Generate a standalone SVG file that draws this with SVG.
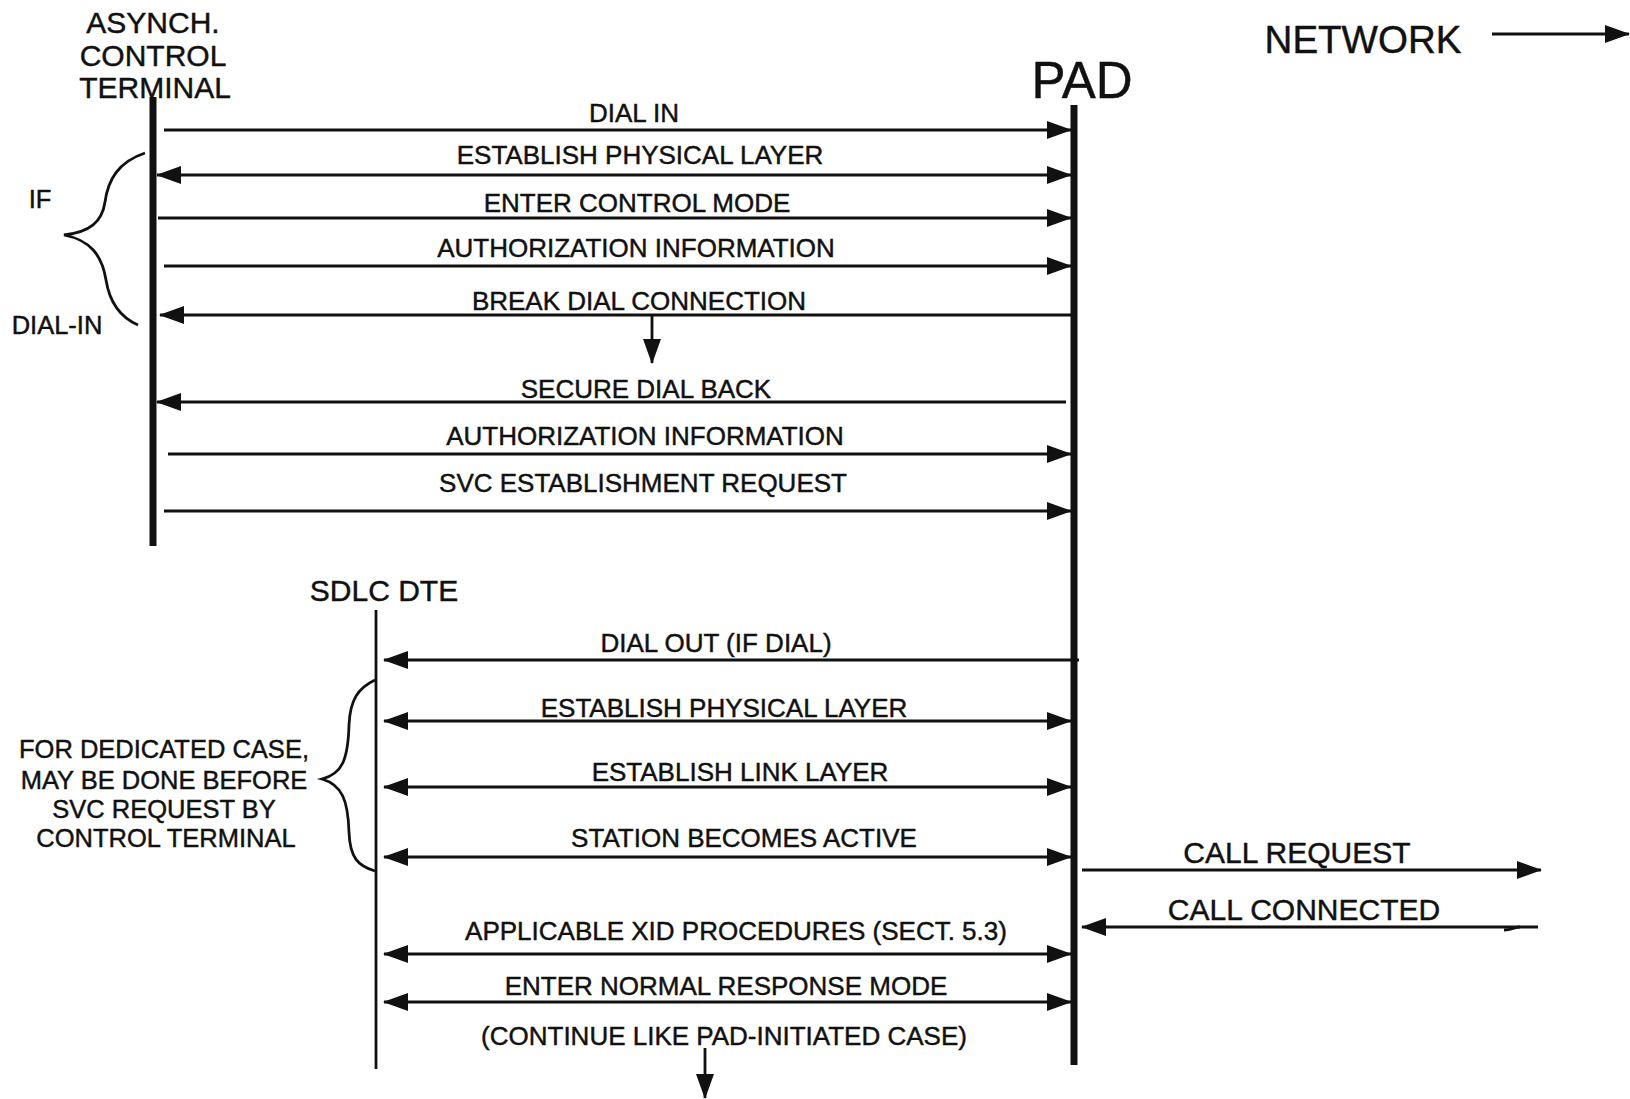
<svg xmlns="http://www.w3.org/2000/svg" width="1630" height="1099" viewBox="0 0 1630 1099">
<style>
text{font-family:"Liberation Sans",Arial,Helvetica,sans-serif;fill:#111;stroke:#111;stroke-width:0.45;}
.hdr{font-size:30px;text-anchor:middle;}
.lbl{font-size:26px;text-anchor:middle;}
.note{font-size:25.5px;text-anchor:middle;}
.big{font-size:30px;text-anchor:middle;}
.msg{stroke:#111;stroke-width:2.8;fill:none;}
.life{stroke:#111;fill:none;}
.brace{stroke:#111;stroke-width:2.8;fill:none;}
</style>
<defs>
<marker id="ah" markerUnits="userSpaceOnUse" viewBox="0 0 25 18" markerWidth="25" markerHeight="18" refX="24" refY="9" orient="auto-start-reverse">
<path d="M0,0 L25,9 L0,18 z" fill="#111"/>
</marker>
</defs>
<rect width="1630" height="1099" fill="#fff"/>

<g id="terminal">
<text class="hdr" x="153" y="33">ASYNCH.</text>
<text class="hdr" x="153" y="66">CONTROL</text>
<text class="hdr" x="155" y="98">TERMINAL</text>
<line class="life" x1="153" y1="97" x2="153" y2="546" stroke-width="7"/>
</g>

<g id="pad">
<text x="1082" y="98" font-size="51" text-anchor="middle">PAD</text>
<line class="life" x1="1074" y1="105" x2="1074" y2="1065" stroke-width="7"/>
</g>

<g id="network">
<text x="1363" y="53" font-size="38.5" text-anchor="middle">NETWORK</text>
</g>

<g id="sdlc-dte">
<text class="hdr" x="384" y="601">SDLC DTE</text>
<line class="life" x1="376" y1="610" x2="376" y2="1069" stroke-width="2.8"/>
</g>

<g id="if-dial-in-note">
<text class="note" x="40" y="208">IF</text>
<text class="note" x="57" y="334">DIAL-IN</text>
<path class="brace" d="M145,153 C118,162 108,180 105,202 C102,222 90,232 64,235 C90,240 102,255 106,280 C110,305 122,318 138,325"/>
</g>

<g id="dedicated-note">
<text class="note" x="164" y="758">FOR DEDICATED CASE,</text>
<text class="note" x="164" y="789">MAY BE DONE BEFORE</text>
<text class="note" x="164" y="818">SVC REQUEST BY</text>
<text class="note" x="166" y="847">CONTROL TERMINAL</text>
<path class="brace" d="M375,680 C358,688 350,700 349,725 C348,760 342,774 322,779 C342,785 348,800 349,832 C350,858 358,866 375,871"/>
</g>

<g id="connectors">
<line class="msg" x1="1492" y1="34" x2="1629" y2="34" marker-end="url(#ah)"/>

<line class="msg" x1="164" y1="130" x2="1071" y2="130" marker-end="url(#ah)"/>
<line class="msg" x1="157" y1="175" x2="1071" y2="175" marker-start="url(#ah)" marker-end="url(#ah)"/>
<line class="msg" x1="158" y1="218" x2="1071" y2="218" marker-end="url(#ah)"/>
<line class="msg" x1="164" y1="266" x2="1071" y2="266" marker-end="url(#ah)"/>
<line class="msg" x1="1073" y1="315" x2="160" y2="315" marker-end="url(#ah)"/>
<line class="msg" x1="652" y1="315" x2="652" y2="363" marker-end="url(#ah)"/>
<line class="msg" x1="1066" y1="402" x2="157" y2="402" marker-end="url(#ah)"/>
<line class="msg" x1="168" y1="454" x2="1071" y2="454" marker-end="url(#ah)"/>
<line class="msg" x1="164" y1="511" x2="1071" y2="511" marker-end="url(#ah)"/>

<line class="msg" x1="1079" y1="660" x2="384" y2="660" marker-end="url(#ah)"/>
<line class="msg" x1="384" y1="721" x2="1071" y2="721" marker-start="url(#ah)" marker-end="url(#ah)"/>
<line class="msg" x1="384" y1="787" x2="1071" y2="787" marker-start="url(#ah)" marker-end="url(#ah)"/>
<line class="msg" x1="384" y1="857" x2="1071" y2="857" marker-start="url(#ah)" marker-end="url(#ah)"/>
<line class="msg" x1="1082" y1="870" x2="1541" y2="870" marker-end="url(#ah)"/>
<line class="msg" x1="1538" y1="927" x2="1082" y2="927" marker-end="url(#ah)"/>
<path class="msg" d="M1520,927 C1514,927 1512,930 1504,930"/>
<line class="msg" x1="384" y1="954" x2="1071" y2="954" marker-start="url(#ah)" marker-end="url(#ah)"/>
<line class="msg" x1="384" y1="1002" x2="1071" y2="1002" marker-start="url(#ah)" marker-end="url(#ah)"/>
<line class="msg" x1="705" y1="1048" x2="705" y2="1098" marker-end="url(#ah)"/>
</g>

<g id="labels">
<text class="lbl" x="634" y="122">DIAL IN</text>
<text class="lbl" x="640" y="164">ESTABLISH PHYSICAL LAYER</text>
<text class="lbl" x="637" y="212">ENTER CONTROL MODE</text>
<text class="lbl" x="636" y="257">AUTHORIZATION INFORMATION</text>
<text class="lbl" x="639" y="310">BREAK DIAL CONNECTION</text>
<text class="lbl" x="646" y="398">SECURE DIAL BACK</text>
<text class="lbl" x="645" y="445">AUTHORIZATION INFORMATION</text>
<text class="lbl" x="643" y="492">SVC ESTABLISHMENT REQUEST</text>

<text class="lbl" x="716" y="652">DIAL OUT (IF DIAL)</text>
<text class="lbl" x="724" y="717">ESTABLISH PHYSICAL LAYER</text>
<text class="lbl" x="740" y="781">ESTABLISH LINK LAYER</text>
<text class="lbl" x="744" y="847">STATION BECOMES ACTIVE</text>
<text class="lbl" x="736" y="940">APPLICABLE XID PROCEDURES (SECT. 5.3)</text>
<text class="lbl" x="726" y="995">ENTER NORMAL RESPONSE MODE</text>
<text class="lbl" x="724" y="1045">(CONTINUE LIKE PAD-INITIATED CASE)</text>
<text class="big" x="1297" y="863">CALL REQUEST</text>
<text class="big" x="1304" y="920">CALL CONNECTED</text>
</g>
</svg>
